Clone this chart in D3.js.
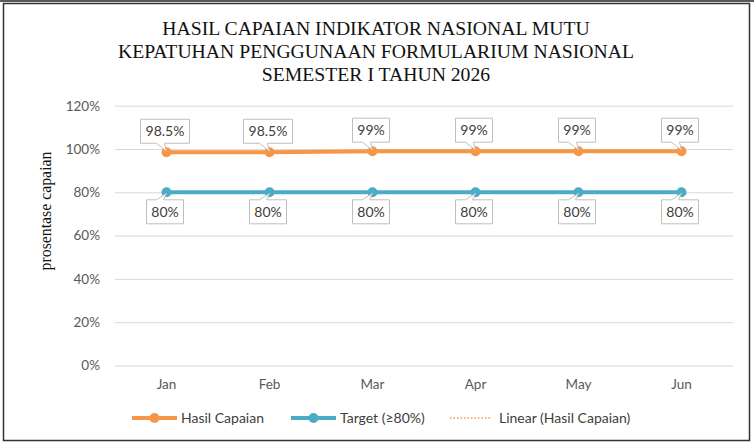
<!DOCTYPE html>
<html>
<head>
<meta charset="utf-8">
<script src="https://cdn.jsdelivr.net/npm/d3@7"></script>
<style>
  body { margin: 0; background: #fff; }
  svg { display: block; }
</style>
</head>
<body>
<div id="chart"></div>
<script>
// chart data
const months = ["Jan", "Feb", "Mar", "Apr", "May", "Jun"];
const hasil = [98.5, 98.5, 99, 99, 99, 99];
const target = [80, 80, 80, 80, 80, 80];
const hasilLabels = ["98.5%", "98.5%", "99%", "99%", "99%", "99%"];
const targetLabels = ["80%", "80%", "80%", "80%", "80%", "80%"];
const yTicks = [0, 20, 40, 60, 80, 100, 120];
const titleLines = [
  "HASIL CAPAIAN INDIKATOR NASIONAL MUTU",
  "KEPATUHAN PENGGUNAAN FORMULARIUM NASIONAL",
  "SEMESTER I TAHUN 2026"
];

const W = 754, H = 446;
const orange = "#F79646", blue = "#4BACC6";
const sans = "Lato, 'Open Sans', sans-serif";
const serif = "'Liberation Serif', 'DejaVu Serif', serif";

const svg = d3.select("#chart").append("svg")
  .attr("width", W).attr("height", H);

// frame
svg.append("line").attr("x1", 0).attr("x2", W).attr("y1", 1).attr("y2", 1)
  .attr("stroke", "#222").attr("stroke-width", 1.5);
svg.append("rect").attr("x", 3.5).attr("y", 3.5).attr("width", 746).attr("height", 437)
  .attr("fill", "#fff").attr("stroke", "#333").attr("stroke-width", 1.5);

// title
svg.append("g").selectAll("text")
  .data(titleLines)
  .join("text")
  .attr("x", 376)
  .attr("y", (d, i) => 35 + i * 23)
  .attr("text-anchor", "middle")
  .attr("font-family", serif)
  .attr("font-size", 19.7)
  .attr("fill", "#111")
  .text(d => d);

// scales
const x = d3.scaleBand().domain(months).range([115, 733]);
const y = d3.scaleLinear().domain([0, 120]).range([365.5, 105.7]);
const cx = d => x(d) + x.bandwidth() / 2;

// grid + y labels
const yAxis = svg.append("g")
  .attr("transform", "translate(115,0)")
  .call(d3.axisLeft(y).tickValues(yTicks).tickSize(-618).tickFormat(d => d + "%"));
yAxis.select(".domain").remove();
yAxis.selectAll(".tick line").attr("stroke", "#d9d9d9").attr("stroke-width", 1);
yAxis.selectAll(".tick text")
  .attr("x", -15)
  .attr("font-family", sans).attr("font-size", 13.5).attr("fill", "#595959");

// x labels
const xAxis = svg.append("g")
  .attr("transform", "translate(0,365.5)")
  .call(d3.axisBottom(x).tickSize(0).tickPadding(14));
xAxis.select(".domain").remove();
xAxis.selectAll(".tick text")
  .attr("font-family", sans).attr("font-size", 13.5).attr("fill", "#595959");

// y axis title
svg.append("text")
  .attr("transform", "translate(51,211) rotate(-90)")
  .attr("text-anchor", "middle")
  .attr("font-family", serif)
  .attr("font-size", 15.8)
  .attr("fill", "#111")
  .text("prosentase capaian");

// linear trend of hasil capaian
const n = hasil.length;
const xm = d3.mean(d3.range(n)), ym = d3.mean(hasil);
const slope = d3.sum(d3.range(n), i => (i - xm) * (hasil[i] - ym)) / d3.sum(d3.range(n), i => (i - xm) ** 2);
const trend = d3.range(n).map(i => ym + slope * (i - xm));

const line = d3.line().x((d, i) => cx(months[i])).y(d => y(d));

svg.append("path").datum(trend)
  .attr("d", line).attr("fill", "none")
  .attr("stroke", orange).attr("stroke-width", 1.5).attr("stroke-dasharray", "1.5 2");

// series
function drawSeries(values, color) {
  svg.append("path").datum(values)
    .attr("d", line).attr("fill", "none")
    .attr("stroke", color).attr("stroke-width", 4).attr("stroke-linejoin", "round");
  svg.append("g").selectAll("circle")
    .data(values)
    .join("circle")
    .attr("cx", (d, i) => cx(months[i]))
    .attr("cy", d => y(d))
    .attr("r", 5)
    .attr("fill", color);
}
drawSeries(target, blue);
drawSeries(hasil, orange);

// callout data labels
function drawLabels(values, labels, above) {
  const g = svg.append("g");
  values.forEach((v, i) => {
    const px = cx(months[i]), py = y(v);
    const lg = g.append("g");
    const path = lg.append("path");
    const t = lg.append("text")
      .attr("font-family", sans).attr("font-size", 14).attr("fill", "#404040")
      .attr("text-anchor", "middle")
      .text(labels[i]);
    const tw = t.node().getComputedTextLength();
    const bw = Math.round(tw + 10), bh = 24;
    const bx = px - 1.5 - bw / 2;
    let d;
    if (above) {
      const by = py - 9 - bh;
      const b = by + bh;
      d = `M${bx},${by}H${bx + bw}V${b}H${px - 2}L${px},${py - 1}L${px - 10},${b}H${bx}Z`;
      t.attr("x", bx + bw / 2).attr("y", by + 17);
    } else {
      const by = py + 7.5;
      d = `M${bx},${by}H${px - 10}L${px},${py + 1}L${px - 3},${by}H${bx + bw}V${by + bh}H${bx}Z`;
      t.attr("x", bx + bw / 2).attr("y", by + 17);
    }
    path.attr("d", d).attr("fill", "#fff").attr("stroke", "#bfbfbf").attr("stroke-width", 1);
  });
}
drawLabels(hasil, hasilLabels, true);
drawLabels(target, targetLabels, false);

// legend
const legendItems = [
  { name: "Hasil Capaian", color: orange, x0: 132, x1: 177, tx: 181, type: "marker" },
  { name: "Target (\u226580%)", color: blue, x0: 291, x1: 336, tx: 340, type: "marker" },
  { name: "Linear (Hasil Capaian)", color: orange, x0: 450, x1: 492, tx: 499, type: "dots" }
];
const ly = 418;
const lg = svg.append("g");
legendItems.forEach(it => {
  if (it.type === "marker") {
    lg.append("line").attr("x1", it.x0).attr("x2", it.x1).attr("y1", ly).attr("y2", ly)
      .attr("stroke", it.color).attr("stroke-width", 4);
    lg.append("circle").attr("cx", (it.x0 + it.x1) / 2).attr("cy", ly).attr("r", 5).attr("fill", it.color);
  } else {
    lg.append("line").attr("x1", it.x0).attr("x2", it.x1).attr("y1", ly).attr("y2", ly)
      .attr("stroke", it.color).attr("stroke-width", 1.5).attr("stroke-dasharray", "1.5 2");
  }
  lg.append("text").attr("x", it.tx).attr("y", ly + 5)
    .attr("font-family", sans).attr("font-size", 14).attr("fill", "#404040")
    .text(it.name);
});
</script>
</body>
</html>
